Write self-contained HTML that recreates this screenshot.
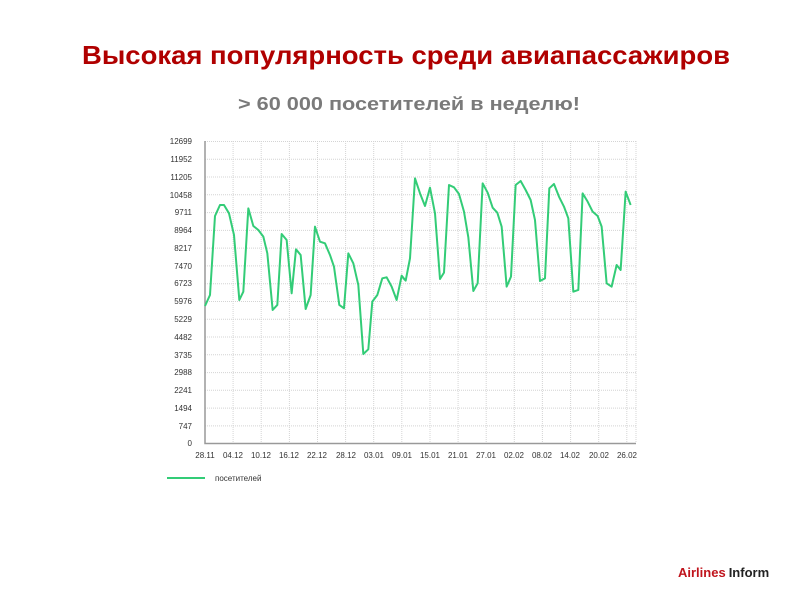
<!DOCTYPE html>
<html><head><meta charset="utf-8"><style>
html,body{margin:0;padding:0;background:#fff;width:800px;height:600px;overflow:hidden}
svg{display:block}
</style></head><body>
<svg width="800" height="600" viewBox="0 0 800 600" xmlns="http://www.w3.org/2000/svg" font-family="Liberation Sans, DejaVu Sans, sans-serif">
<text x="82" y="64" font-size="26" font-weight="bold" fill="#b00000" textLength="648" lengthAdjust="spacingAndGlyphs">Высокая популярность среди авиапассажиров</text>
<text x="238" y="110" font-size="18" font-weight="bold" fill="#7a7a7a" textLength="342" lengthAdjust="spacingAndGlyphs">&gt; 60 000 посетителей в неделю!</text>
<g stroke="#d4d4d4" stroke-width="1" stroke-dasharray="1,1" fill="none">
<path d="M205 141.5H636M205 159.3H636M205 177H636M205 194.8H636M205 212.6H636M205 230.4H636M205 248.1H636M205 265.9H636M205 283.7H636M205 301.5H636M205 319.2H636M205 337H636M205 354.8H636M205 372.6H636M205 390.3H636M205 408.1H636M205 425.9H636"/>
<path d="M233.1 141V443M261.2 141V443M289.4 141V443M317.5 141V443M345.6 141V443M373.7 141V443M401.8 141V443M430 141V443M458.1 141V443M486.2 141V443M514.3 141V443M542.4 141V443M570.6 141V443M598.7 141V443M626.8 141V443M636 141V443"/>
</g>
<path d="M205 141V443.5H636" stroke="#999" stroke-width="1.5" fill="none"/>
<g font-size="8" fill="#333" text-anchor="end">
<text x="192" y="144">12699</text><text x="192" y="162">11952</text><text x="192" y="180">11205</text><text x="192" y="198">10458</text><text x="192" y="215">9711</text><text x="192" y="233">8964</text><text x="192" y="251">8217</text><text x="192" y="269">7470</text><text x="192" y="286">6723</text><text x="192" y="304">5976</text><text x="192" y="322">5229</text><text x="192" y="340">4482</text><text x="192" y="358">3735</text><text x="192" y="375">2988</text><text x="192" y="393">2241</text><text x="192" y="411">1494</text><text x="192" y="429">747</text><text x="192" y="446">0</text>
</g>
<g font-size="8" fill="#333" text-anchor="middle">
<text x="205" y="458">28.11</text><text x="233" y="458">04.12</text><text x="261" y="458">10.12</text><text x="289" y="458">16.12</text><text x="317" y="458">22.12</text><text x="346" y="458">28.12</text><text x="374" y="458">03.01</text><text x="402" y="458">09.01</text><text x="430" y="458">15.01</text><text x="458" y="458">21.01</text><text x="486" y="458">27.01</text><text x="514" y="458">02.02</text><text x="542" y="458">08.02</text><text x="570" y="458">14.02</text><text x="599" y="458">20.02</text><text x="627" y="458">26.02</text>
</g>
<g fill="none" stroke="#33cc77" stroke-width="2" stroke-linejoin="round">
<polyline transform="translate(160,130) scale(0.3333)" vector-effect="non-scaling-stroke" points="135,528 150,495 165,258 180,225 192,225 207,250 222,315 238,510 250,485 265,235 280,288 295,300 310,320 322,370 338,540 352,525 365,312 380,330 395,490 408,358 422,375 437,537 452,495 465,290 480,335 495,340 510,375 522,410 538,525 552,535 565,370 580,400 595,465 610,672 625,658 637,515 652,495 667,445 680,442 695,470 710,510 725,437 735,450"/>
<polyline transform="translate(400,130) scale(0.3333)" vector-effect="non-scaling-stroke" points="5,438 17,452 30,385 45,145 60,190 75,228 90,173 105,250 120,447 132,428 147,165 162,172 177,192 192,245 205,322 220,483 233,460 248,160 263,188 278,233 292,248 305,290 320,470 333,440 347,165 362,153 377,180 392,210 405,270 420,453 435,445 448,175 462,162 477,200 492,230 505,265 520,485 535,480 548,190 563,215 578,245 593,258 605,290 620,460 635,470 650,405 662,420 677,185 692,225"/>
</g>
<line x1="167" y1="478" x2="205" y2="478" stroke="#33cc77" stroke-width="2"/>
<text x="215" y="481" font-size="8" fill="#333">посетителей</text>
<text x="678" y="577" font-size="13" font-weight="bold"><tspan fill="#c0141c">Airlines</tspan><tspan fill="#222" dx="3">Inform</tspan></text>
</svg>
</body></html>
